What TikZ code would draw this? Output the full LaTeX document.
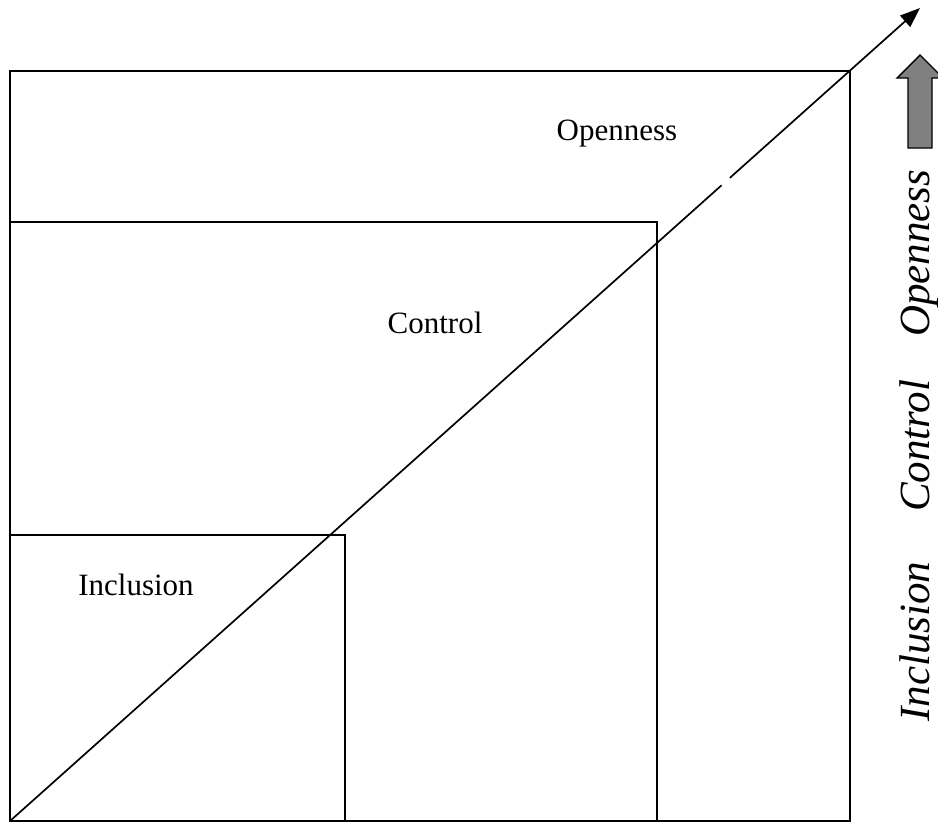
\documentclass[tikz,border=0pt]{standalone}
\usepackage{fontspec}
\setmainfont{Liberation Serif}[ItalicFont={Liberation Serif Italic}]
\usetikzlibrary{arrows.meta,calc}
\begin{document}
\begin{tikzpicture}[x=1pt,y=-1pt,
  box/.style={draw=black, line width=1.7pt},
  axis/.style={draw=black, line width=1.7pt},
  lbl/.style={font=\fontsize{31}{36}\selectfont, inner sep=0pt},
  sidelbl/.style={font=\fontsize{43}{50}\selectfont\itshape, rotate=90, anchor=base west, inner sep=0pt},
  blockarrow/.style={draw=black, line width=1.4pt, fill={rgb,255:red,128;green,128;blue,128}, line join=miter}]
\useasboundingbox (0,0) rectangle (938,823);

% nested levels
\draw[box] (10,71) rectangle (850,821);
\draw[box] (10,222) rectangle (657,821);
\draw[box] (10,535) rectangle (345,821);

\node[lbl] (openness) at (617,134) {Openness};
\node[lbl] (control) at (435,323) {Control};
\node[lbl] (inclusion) at (136,585) {Inclusion};

% diagonal growth axis, with a short break
\coordinate (origin) at (10,821);
\coordinate (tip) at (920,8);
\draw[axis] (origin) -- ($(origin)!0.782!(tip)$);
\draw[axis, -{Triangle[length=20pt,width=15pt]}] ($(origin)!0.791!(tip)$) -- (tip);

% block arrow on the right
\draw[blockarrow] (908,148) -- (908,78) -- (897,78) -- (920,55) -- (943,78) -- (932,78) -- (932,148) -- cycle;

% side labels
\node[sidelbl] (s1) at (929,722) {Inclusion};
\node[sidelbl] (s2) at (929,512) {Control};
\node[sidelbl] (s3) at (929,337) {Openness};
\end{tikzpicture}
\end{document}
